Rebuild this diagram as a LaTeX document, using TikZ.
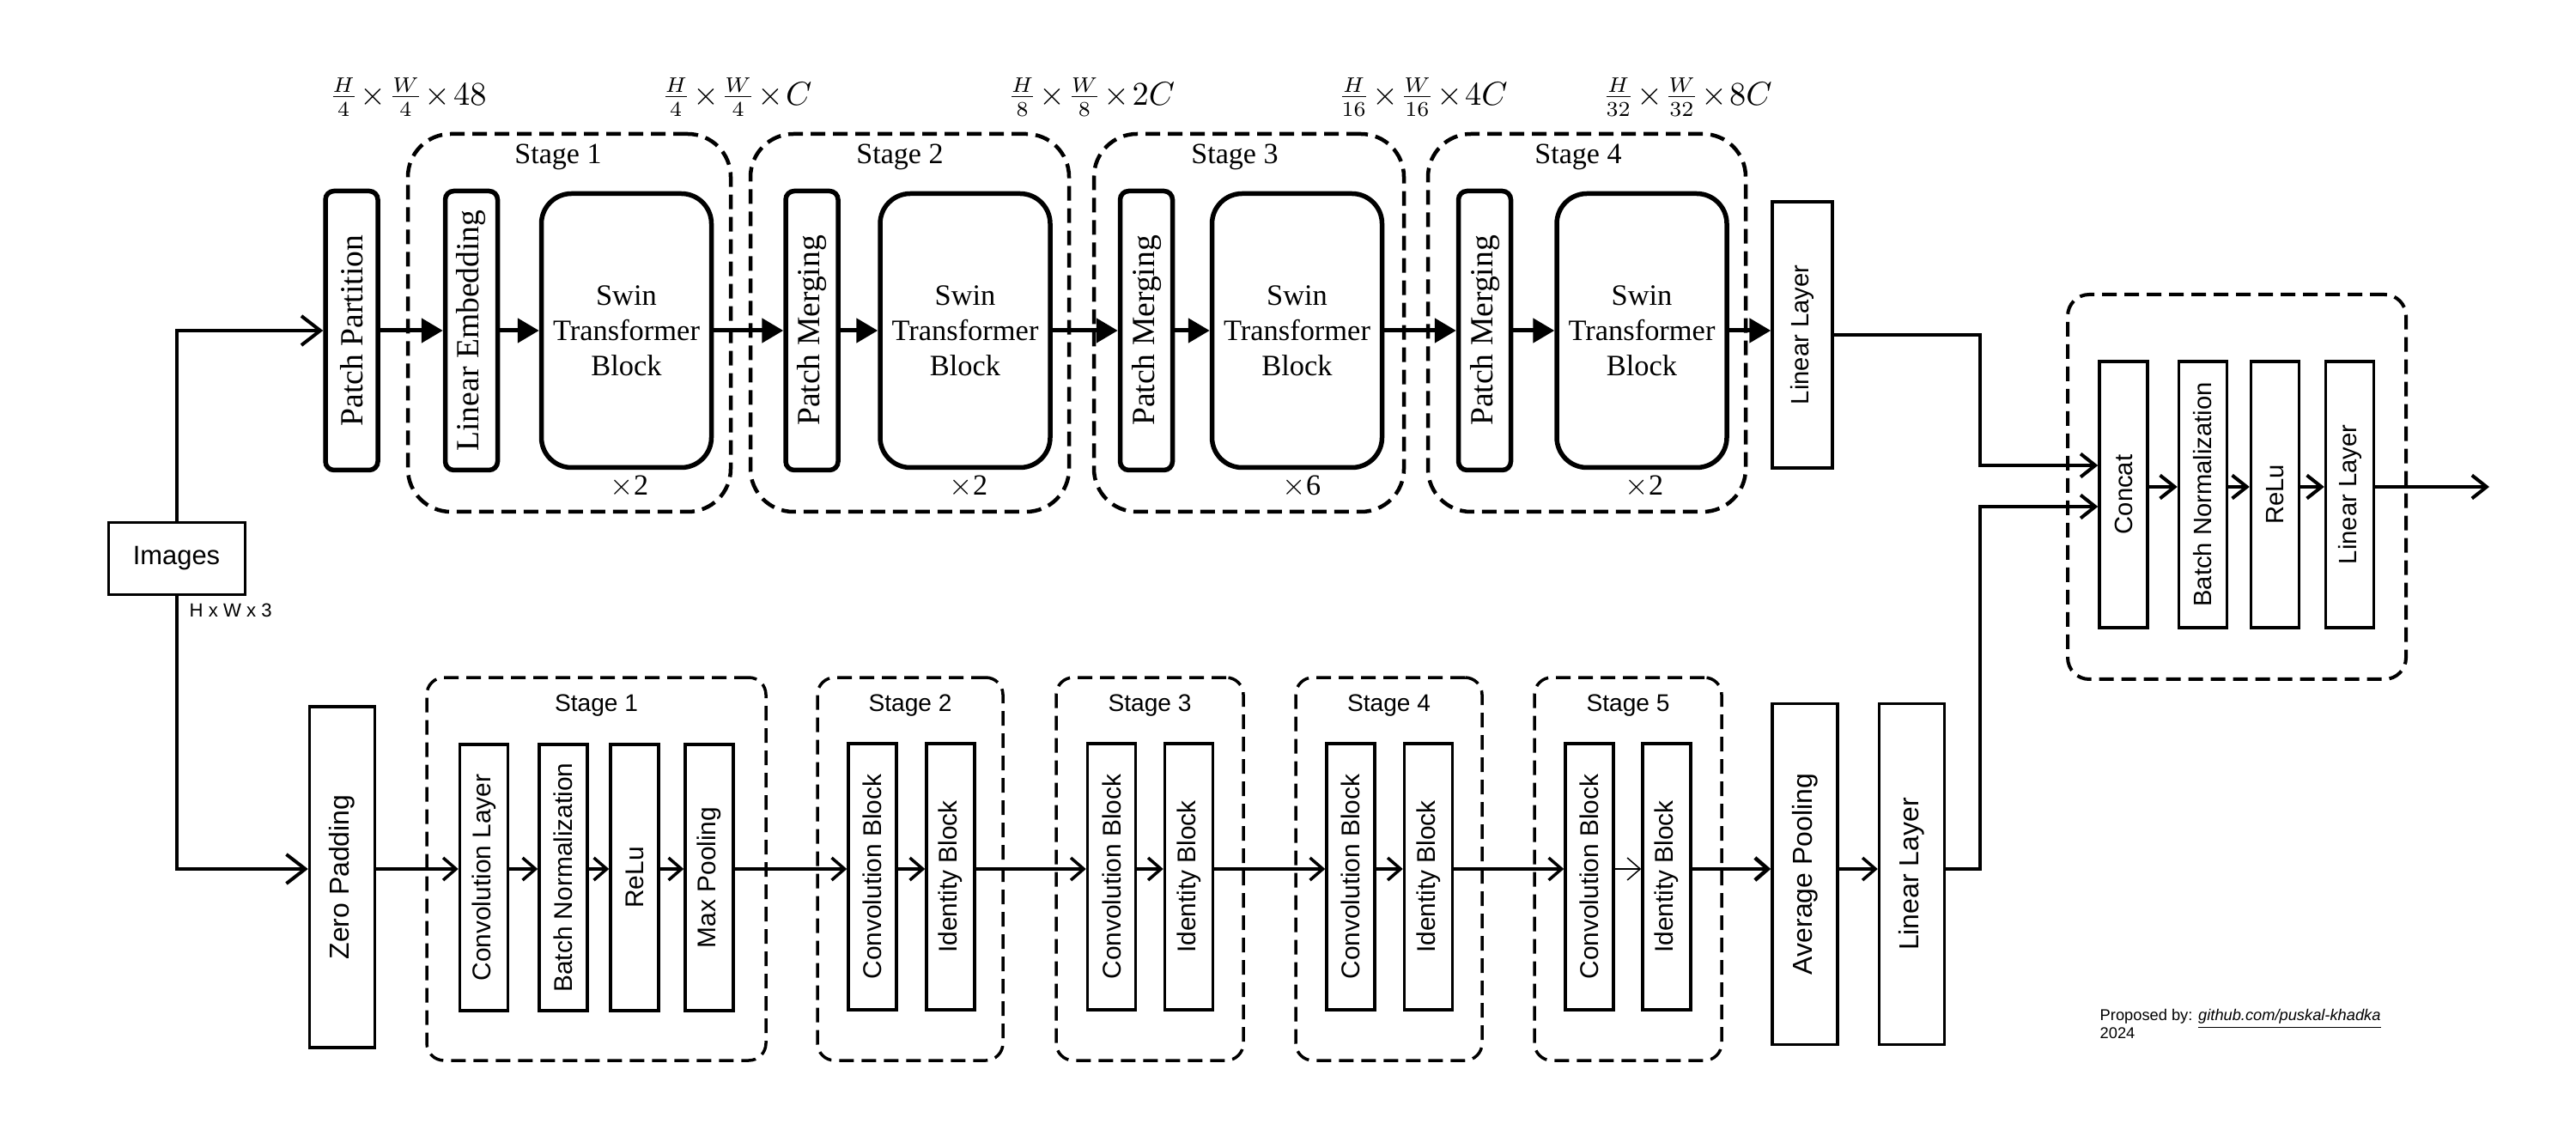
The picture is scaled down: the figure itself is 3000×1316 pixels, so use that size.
\documentclass[tikz,border=0pt]{standalone}
\usepackage{fontspec}
\setmainfont{Liberation Serif}
\setsansfont{Liberation Sans}
\usepackage{graphicx}
\usetikzlibrary{arrows.meta}
\newcommand{\uptext}[1]{\rotatebox{90}{#1}}
\newcommand{\tx}{\mkern1.5mu{\times}\mkern1.5mu}
\tikzset{
  tnode/.style= {draw, line width=0.55mm, rounded corners=1mm, inner sep=0, minimum width=6.1mm, minimum height=32.5mm, font=\fontsize{10.7}{12}\selectfont},
  tblock/.style= {draw, line width=0.55mm, rounded corners=3.5mm, inner sep=0, minimum width=19.8mm, minimum height=31.9mm, align=center, font=\fontsize{9.8}{11.7}\selectfont},
  bnode/.style= {draw, line width=0.35mm, inner sep=0, minimum width=5.6mm, minimum height=31mm, font=\sffamily\fontsize{8.5}{10}\selectfont},
  rnode/.style= {bnode, font=\sffamily\fontsize{8.3}{10}\selectfont},
  wnode/.style= {draw, line width=0.35mm, inner sep=0, minimum width=7.6mm, minimum height=39.7mm, font=\sffamily\fontsize{9.1}{11}\selectfont},
  tstage/.style= {draw, line width=0.45mm, dash pattern=on 1.7mm off 0.9mm, rounded corners=5mm, minimum height=44mm},
  bstage/.style= {draw, line width=0.35mm, dash pattern=on 1.7mm off 0.9mm, rounded corners=2mm, minimum height=44.6mm},
  tlabel/.style= {inner sep=0, font=\fontsize{9.7}{11}\selectfont},
  blabel/.style= {inner sep=0, font=\sffamily\fontsize{8}{10}\selectfont},
  dimlabel/.style= {inner sep=0, font=\fontsize{10.5}{12}\selectfont},
  credit/.style= {inner sep=0, font=\sffamily\fontsize{5.2}{6}\selectfont},
  tarrow/.style= {-{Triangle[length=2.5mm, width=2.8mm]}, line width=0.5mm},
  ibarb/.style= {-{Straight Barb[length=2.2mm, width=3.4mm]}, line width=0.4mm},
  barb/.style= {-{Straight Barb[length=1.5mm, width=2.6mm]}, line width=0.35mm},
  rbarb/.style= {-{Straight Barb[length=1.7mm, width=2.7mm]}, line width=0.4mm},
}

\begin{document}
\begin{tikzpicture}[x=0.1mm, y=-0.1mm]
  \useasboundingbox (0,0) rectangle (3000,1316);

  % swin branch
  \node [tstage, minimum width=37.6mm] (ts1) at (663,376) {} ;
  \node [tstage, minimum width=37.1mm] (ts2) at (1059.5,376) {} ;
  \node [tstage, minimum width=36.1mm] (ts3) at (1454.5,376) {} ;
  \node [tstage, minimum width=37mm] (ts4) at (1848,376) {} ;

  \node [tlabel] (tt1) at (650,183) {Stage 1} ;
  \node [tlabel] (tt2) at (1048,183) {Stage 2} ;
  \node [tlabel] (tt3) at (1438,183) {Stage 3} ;
  \node [tlabel] (tt4) at (1838,183) {Stage 4} ;

  \node [dimlabel] (d0) at (475,113) {$\frac{H}{4}\tx\frac{W}{4}\tx48$} ;
  \node [dimlabel] (d1) at (858,113) {$\frac{H}{4}\tx\frac{W}{4}\tx C$} ;
  \node [dimlabel] (d2) at (1271,113) {$\frac{H}{8}\tx\frac{W}{8}\tx 2C$} ;
  \node [dimlabel] (d3) at (1657,113) {$\frac{H}{16}\tx\frac{W}{16}\tx 4C$} ;
  \node [dimlabel] (d4) at (1965,113) {$\frac{H}{32}\tx\frac{W}{32}\tx 8C$} ;

  \node [tnode] (pp) at (409.5,385) {\uptext{Patch Partition}} ;
  \node [tnode] (le) at (549,385) {\uptext{Linear Embedding}} ;
  \node [tblock] (sw1) at (729.5,385) {Swin\\Transformer\\Block} ;
  \node [tnode] (pm2) at (945.5,385) {\uptext{Patch Merging}} ;
  \node [tblock] (sw2) at (1124,385) {Swin\\Transformer\\Block} ;
  \node [tnode] (pm3) at (1335,385) {\uptext{Patch Merging}} ;
  \node [tblock] (sw3) at (1510.5,385) {Swin\\Transformer\\Block} ;
  \node [tnode] (pm4) at (1729,385) {\uptext{Patch Merging}} ;
  \node [tblock] (sw4) at (1912,385) {Swin\\Transformer\\Block} ;
  \node [rnode, minimum width=7mm] (lt) at (2099,390) {\uptext{Linear Layer}} ;

  \node [tlabel] (r1) at (733,567) {$\times$2} ;
  \node [tlabel] (r2) at (1128,567) {$\times$2} ;
  \node [tlabel] (r3) at (1516,567) {$\times$6} ;
  \node [tlabel] (r4) at (1915,567) {$\times$2} ;

  % input
  \node [draw, line width=0.3mm, minimum width=15.9mm, minimum height=8.3mm, font=\sffamily\fontsize{8.8}{10}\selectfont] (img) at (205.5,650.5) {Images} ;
  \node [anchor=west, inner sep=0, font=\sffamily\fontsize{6.3}{8}\selectfont] (hw) at (220,711) {H x W x 3} ;

  % resnet branch
  \coordinate (brow) at (0,1012) ;
  \node [bstage, minimum width=39.5mm] (bs1) at (694.5,1012) {} ;
  \node [bstage, minimum width=21.6mm] (bs2) at (1060,1012) {} ;
  \node [bstage, minimum width=21.8mm] (bs3) at (1339,1012) {} ;
  \node [bstage, minimum width=21.7mm] (bs4) at (1617.5,1012) {} ;
  \node [bstage, minimum width=21.8mm] (bs5) at (1896,1012) {} ;

  \node [blabel] (bt1) at (694.5,822) {Stage 1} ;
  \node [blabel] (bt2) at (1060,822) {Stage 2} ;
  \node [blabel] (bt3) at (1339,822) {Stage 3} ;
  \node [blabel] (bt4) at (1617.5,822) {Stage 4} ;
  \node [blabel] (bt5) at (1896,822) {Stage 5} ;

  \node [wnode] (zp) at (398.5,1021.5) {\uptext{Zero Padding}} ;
  \node [bnode] (c1) at (563.5,1022) {\uptext{Convolution Layer}} ;
  \node [bnode] (bn1) at (656,1022) {\uptext{Batch Normalization}} ;
  \node [bnode] (rl1) at (739,1022) {\uptext{ReLu}} ;
  \node [bnode] (mp1) at (826,1022) {\uptext{Max Pooling}} ;
  \node [bnode] (cb2) at (1016,1021) {\uptext{Convolution Block}} ;
  \node [bnode] (ib2) at (1107,1021) {\uptext{Identity Block}} ;
  \node [bnode] (cb3) at (1294.5,1021) {\uptext{Convolution Block}} ;
  \node [bnode] (ib3) at (1384.5,1021) {\uptext{Identity Block}} ;
  \node [bnode] (cb4) at (1573,1021) {\uptext{Convolution Block}} ;
  \node [bnode] (ib4) at (1663.5,1021) {\uptext{Identity Block}} ;
  \node [bnode] (cb5) at (1851,1021) {\uptext{Convolution Block}} ;
  \node [bnode] (ib5) at (1941,1021) {\uptext{Identity Block}} ;
  \node [wnode] (ap) at (2102,1018) {\uptext{Average Pooling}} ;
  \node [wnode] (lb) at (2226.5,1018) {\uptext{Linear Layer}} ;

  % fusion head
  \coordinate (rrow) at (0,567) ;
  \coordinate (ctop) at (2306,542) ;
  \coordinate (cbot) at (2306,590) ;
  \coordinate (out) at (2899,567) ;
  \node [bstage, line width=0.4mm, minimum width=39.4mm, minimum height=44.8mm, rounded corners=2.5mm] (fuse) at (2605,567) {} ;
  \node [rnode] (cc) at (2473,576) {\uptext{Concat}} ;
  \node [rnode] (bnr) at (2565.5,576) {\uptext{Batch Normalization}} ;
  \node [rnode] (rlr) at (2649.5,576) {\uptext{ReLu}} ;
  \node [rnode] (llr) at (2736.5,576) {\uptext{Linear Layer}} ;

  \node [credit, anchor=base west] (cred) at (2445,1188) {Proposed by: \underline{\textit{github.com/puskal-khadka}}} ;
  \node [credit, anchor=base west] (year) at (2445,1209) {2024} ;

  % connectors
  \draw [ibarb] (img.north) |- (pp.west) ;
  \draw [ibarb] (img.south) |- (zp.west |- brow) ;

  \draw [tarrow] (pp.east) -- (le.west) ;
  \draw [tarrow] (le.east) -- (sw1.west) ;
  \draw [tarrow] (sw1.east) -- (pm2.west) ;
  \draw [tarrow] (pm2.east) -- (sw2.west) ;
  \draw [tarrow] (sw2.east) -- (pm3.west) ;
  \draw [tarrow] (pm3.east) -- (sw3.west) ;
  \draw [tarrow] (sw3.east) -- (pm4.west) ;
  \draw [tarrow] (pm4.east) -- (sw4.west) ;
  \draw [tarrow] (sw4.east) -- (sw4.east -| lt.west) ;

  \draw [barb] (zp.east |- brow) -- (c1.west |- brow) ;
  \draw [barb] (c1.east |- brow) -- (bn1.west |- brow) ;
  \draw [barb] (bn1.east |- brow) -- (rl1.west |- brow) ;
  \draw [barb] (rl1.east |- brow) -- (mp1.west |- brow) ;
  \draw [barb] (mp1.east |- brow) -- (cb2.west |- brow) ;
  \draw [barb] (cb2.east |- brow) -- (ib2.west |- brow) ;
  \draw [barb] (ib2.east |- brow) -- (cb3.west |- brow) ;
  \draw [barb] (cb3.east |- brow) -- (ib3.west |- brow) ;
  \draw [barb] (ib3.east |- brow) -- (cb4.west |- brow) ;
  \draw [barb] (cb4.east |- brow) -- (ib4.west |- brow) ;
  \draw [barb] (ib4.east |- brow) -- (cb5.west |- brow) ;
  \draw [barb, line width=0.15mm] (cb5.east |- brow) -- (ib5.west |- brow) ;
  \draw [barb, line width=0.45mm] (ib5.east |- brow) -- (ap.west |- brow) ;
  \draw [barb] (ap.east |- brow) -- (lb.west |- brow) ;

  \draw [rbarb] (lt.east) -| (ctop) -- (ctop -| cc.west) ;
  \draw [rbarb] (lb.east |- brow) -| (cbot) -- (cbot -| cc.west) ;
  \draw [rbarb] (cc.east |- rrow) -- (bnr.west |- rrow) ;
  \draw [rbarb] (bnr.east |- rrow) -- (rlr.west |- rrow) ;
  \draw [rbarb] (rlr.east |- rrow) -- (llr.west |- rrow) ;
  \draw [rbarb] (llr.east |- rrow) -- (out) ;
\end{tikzpicture}
\end{document}
